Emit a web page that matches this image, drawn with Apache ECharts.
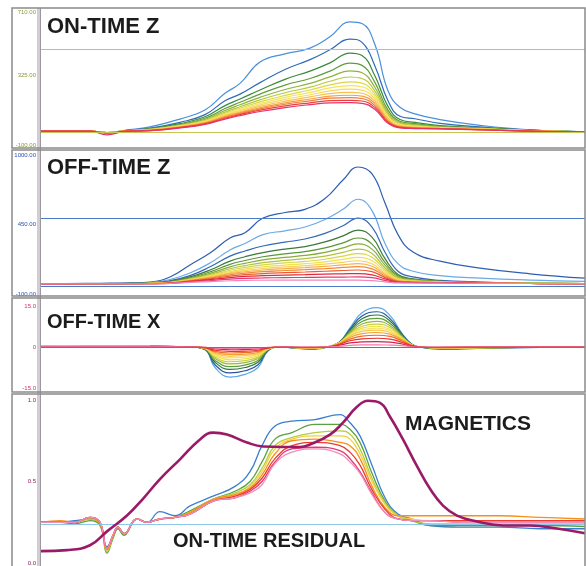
<!DOCTYPE html>
<html>
<head>
<meta charset="utf-8">
<script src="https://cdn.jsdelivr.net/npm/echarts@6/dist/echarts.min.js"></script>
<style>
  html, body { margin: 0; padding: 0; background: #fff; }
  #chart { width: 586px; height: 566px; }
</style>
</head>
<body>
<div id="chart"></div>
<script>
// 剖面位置（站点，0 = 左端）
const onZX = [0, 49, 66, 84, 109, 139, 164, 184, 199, 219, 244, 269, 289, 309, 321, 334, 347, 359, 374, 399, 439, 489, 544];
const offZX = [0, 59, 89, 109, 129, 149, 169, 189, 204, 222, 244, 264, 284, 302, 317, 331, 344, 357, 372, 399, 439, 489, 544];
const offXX = [0, 59, 109, 149, 164, 174, 189, 204, 217, 227, 239, 259, 274, 289, 299, 309, 321, 336, 349, 361, 371, 379, 399, 459, 544];
const resX = [0, 19, 34, 49, 59, 66, 72, 77, 83, 96, 106, 119, 134, 149, 172, 194, 209, 221, 234, 251, 274, 299, 309, 319, 331, 344, 357, 371, 389, 419, 459, 499, 544];
const magX = [0, 26, 49, 66, 86, 102, 119, 139, 159, 172, 186, 206, 222, 242, 259, 269, 289, 302, 316, 327, 339, 349, 362, 376, 389, 402, 416, 436, 462, 489, 516, 544];

// ON-TIME Z channels (early -> late)
const onZ1 = [-15, -15, -25, -10, 10, 58, 113, 215, 275, 405, 455, 490, 560, 650, 640, 510, 230, 130, 90, 55, 20, -8, -20];
const onZ2 = [-15, -15, -25, -12, 3, 38, 85, 170, 210, 280, 360, 420, 480, 545, 525, 380, 170, 75, 60, 32, 10, -10, -20];
const onZ3 = [-15, -15, -25, -12, 0, 30, 72, 140, 180, 235, 300, 350, 400, 460, 445, 320, 135, 55, 38, 18, 5, -10, -20];
const onZ4 = [-15, -15, -25, -13, -2, 25, 63, 122, 160, 210, 265, 305, 350, 399, 385, 280, 112, 45, 30, 14, 3, -11, -20];
const onZ5 = [-15, -15, -25, -13, -4, 22, 56, 110, 145, 190, 238, 275, 315, 351, 340, 250, 98, 38, 24, 10, 1, -12, -20];
const onZ6 = [-15, -15, -25, -14, -5, 20, 51, 100, 133, 175, 218, 252, 288, 314, 305, 228, 86, 32, 20, 8, 0, -12, -20];
const onZ7 = [-15, -15, -25, -14, -6, 18, 47, 93, 124, 163, 202, 235, 266, 285, 277, 210, 77, 28, 17, 6, -1, -13, -20];
const onZ8 = [-15, -15, -25, -14, -7, 16, 44, 87, 116, 153, 190, 220, 248, 262, 255, 195, 70, 24, 14, 5, -2, -13, -20];
const onZ9 = [-15, -15, -25, -15, -8, 14, 41, 82, 109, 144, 178, 206, 230, 240, 234, 180, 63, 20, 11, 3, -3, -14, -20];
const onZ10 = [-15, -15, -25, -15, -9, 12, 38, 77, 102, 135, 167, 193, 213, 220, 215, 165, 56, 16, 8, 2, -4, -14, -20];
const onZ11 = [-15, -15, -25, -15, -10, 10, 35, 72, 96, 127, 157, 180, 198, 203, 198, 152, 50, 13, 6, 1, -5, -15, -20];
const onZ12 = [-15, -15, -25, -16, -11, 8, 32, 68, 91, 120, 148, 169, 185, 188, 183, 140, 44, 10, 4, 0, -6, -15, -20];
const onZ13 = [-15, -15, -28, -16, -12, 6, 29, 63, 85, 112, 138, 157, 170, 172, 168, 128, 38, 7, 2, -1, -7, -16, -20];
const onZ14 = [-15, -15, -38, -17, -13, 4, 26, 58, 79, 104, 128, 146, 157, 158, 154, 116, 32, 4, 0, -2, -8, -16, -20];

// OFF-TIME Z channels
const offZ1 = [-20, -15, -12, -5, 35, 130, 224, 343, 385, 501, 545, 570, 655, 802, 905, 850, 620, 370, 232, 160, 105, 60, 25];
const offZ2 = [-20, -18, -15, -10, 15, 66, 145, 248, 300, 370, 400, 430, 490, 570, 650, 560, 300, 140, 80, 45, 25, 10, 0];
const offZ3 = [-20, -18, -16, -12, 5, 45, 115, 200, 240, 280, 310, 335, 380, 440, 500, 430, 230, 80, 35, 8, -5, -12, -18];
const offZ4 = [-20, -18, -16, -13, 0, 35, 90, 160, 195, 228, 255, 275, 312, 360, 406, 350, 180, 55, 20, 2, -8, -14, -18];
const offZ5 = [-20, -18, -17, -14, -3, 28, 75, 135, 165, 195, 218, 235, 265, 305, 343, 295, 150, 45, 15, 0, -9, -15, -18];
const offZ6 = [-20, -18, -17, -15, -5, 23, 63, 115, 143, 170, 190, 205, 230, 265, 296, 255, 128, 36, 12, -2, -10, -15, -18];
const offZ7 = [-20, -18, -17, -15, -7, 19, 54, 100, 125, 148, 166, 180, 200, 230, 255, 220, 108, 28, 8, -4, -11, -16, -18];
const offZ8 = [-20, -19, -18, -16, -9, 16, 47, 88, 110, 130, 146, 158, 175, 200, 220, 190, 92, 22, 5, -5, -12, -16, -18];
const offZ9 = [-20, -19, -18, -16, -10, 13, 41, 78, 97, 115, 129, 140, 154, 174, 190, 163, 78, 16, 2, -6, -12, -16, -18];
const offZ10 = [-20, -19, -18, -17, -11, 11, 36, 69, 86, 102, 114, 124, 136, 151, 163, 140, 65, 11, 0, -7, -13, -17, -18];
const offZ11 = [-20, -19, -18, -17, -12, 9, 31, 61, 76, 90, 101, 109, 119, 131, 140, 120, 54, 7, -2, -8, -13, -17, -18];
const offZ12 = [-20, -19, -18, -17, -13, 6, 26, 52, 65, 77, 86, 93, 101, 110, 116, 99, 43, 3, -4, -9, -14, -17, -18];
const offZ13 = [-20, -19, -19, -18, -14, 3, 20, 42, 53, 62, 69, 74, 80, 86, 90, 77, 32, -1, -7, -10, -14, -17, -18];
const offZ14 = [-20, -19, -19, -18, -15, 0, 13, 30, 39, 45, 50, 53, 57, 60, 62, 52, 20, -5, -9, -11, -15, -17, -18];
const offZ15 = [-20, -19, -19, -18, -16, -4, 6, 18, 24, 27, 30, 31, 33, 34, 35, 29, 8, -9, -11, -12, -15, -17, -18];
const offZ16 = [-20, -19, -19, -19, -17, -8, -2, 5, 8, 9, 10, 10, 10, 10, 10, 6, -4, -12, -13, -14, -16, -17, -18];

// OFF-TIME X channels
const offX1 = [0.2, 0.5, 0.3, 0.1, -1.0, -7.5, -11.0, -10.0, -7.5, -1.5, 0.0, -0.6, -0.8, 0.2, 2.0, 7.0, 12.5, 14.4, 11.5, 5.0, 1.0, 0.0, -0.8, -0.3, 0.0];
const offX2 = [0.2, 0.4, 0.3, 0.1, -0.9, -6.5, -9.5, -8.7, -6.5, -1.3, 0.0, -0.5, -0.7, 0.2, 1.9, 6.5, 11.3, 12.9, 10.4, 4.7, 0.9, 0.0, -0.7, -0.3, 0.0];
const offX3 = [0.2, 0.4, 0.3, 0.1, -0.8, -5.6, -8.2, -7.5, -5.6, -1.1, 0.0, -0.5, -0.6, 0.2, 1.8, 6.1, 10.3, 11.7, 9.5, 4.4, 0.9, 0.0, -0.6, -0.2, 0.0];
const offX4 = [0.2, 0.4, 0.3, 0.1, -0.7, -4.9, -7.2, -6.6, -4.9, -1.0, 0.0, -0.4, -0.5, 0.2, 1.8, 5.6, 9.3, 10.5, 8.6, 4.1, 0.8, 0.0, -0.5, -0.2, 0.0];
const offX5 = [0.2, 0.3, 0.2, 0.1, -0.6, -4.2, -6.2, -5.7, -4.2, -0.9, 0.0, -0.4, -0.5, 0.2, 1.7, 5.2, 8.4, 9.4, 7.8, 3.8, 0.8, 0.0, -0.5, -0.2, 0.0];
const offX6 = [0.2, 0.3, 0.2, 0.1, -0.5, -3.7, -5.4, -5.0, -3.7, -0.8, 0.0, -0.3, -0.4, 0.2, 1.7, 4.8, 7.6, 8.4, 7.1, 3.5, 0.7, 0.0, -0.4, -0.2, 0.0];
const offX7 = [0.2, 0.3, 0.2, 0.1, -0.5, -3.2, -4.7, -4.3, -3.2, -0.7, 0.0, -0.3, -0.4, 0.2, 1.6, 4.5, 6.9, 7.6, 6.5, 3.3, 0.7, 0.0, -0.4, -0.1, 0.0];
const offX8 = [0.2, 0.3, 0.2, 0.1, -0.4, -2.8, -4.0, -3.7, -2.8, -0.6, 0.0, -0.3, -0.3, 0.2, 1.6, 4.2, 6.3, 6.9, 6.0, 3.1, 0.7, 0.0, -0.3, -0.1, 0.0];
const offX9 = [0.1, 0.2, 0.2, 0.1, -0.4, -2.4, -3.4, -3.1, -2.4, -0.5, 0.0, -0.2, -0.3, 0.2, 1.5, 3.9, 5.7, 6.2, 5.4, 2.9, 0.6, 0.0, -0.3, -0.1, 0.0];
const offX10 = [0.1, 0.2, 0.2, 0.1, -0.3, -2.0, -2.8, -2.6, -2.0, -0.4, 0.0, -0.2, -0.2, 0.2, 1.4, 3.5, 4.9, 5.3, 4.7, 2.6, 0.6, 0.0, -0.2, -0.1, 0.0];
const offX11 = [0.1, 0.2, 0.1, 0.1, -0.3, -1.6, -2.2, -2.0, -1.6, -0.3, 0.0, -0.2, -0.2, 0.2, 1.2, 2.9, 4.0, 4.3, 3.9, 2.2, 0.5, 0.0, -0.2, -0.1, 0.0];
const offX12 = [0.1, 0.1, 0.1, 0.0, -0.2, -1.2, -1.6, -1.5, -1.2, -0.3, 0.0, -0.1, -0.1, 0.1, 1.0, 2.3, 3.0, 3.2, 2.9, 1.7, 0.4, 0.0, -0.1, 0.0, 0.0];
const offX13 = [0.1, 0.1, 0.1, 0.0, -0.1, -0.7, -1.0, -0.9, -0.7, -0.2, 0.0, -0.1, -0.1, 0.1, 0.7, 1.5, 1.9, 2.0, 1.8, 1.1, 0.3, 0.0, -0.1, 0.0, 0.0];
const offX14 = [0.1, 0.1, 0.1, 0.0, -0.1, -0.4, -0.5, -0.5, -0.4, -0.1, 0.0, 0.0, 0.0, 0.1, 0.3, 0.6, 0.8, 0.8, 0.7, 0.5, 0.1, 0.0, 0.0, 0.0, 0.0];

// ON-TIME RESIDUAL channels + magnetics
const res1 = [.25, .25, .26, .27, .24, .10, .16, .22, .18, .27, .25, .315, .29, .35, .41, .47, .56, .72, .84, .87, .88, .91, .86, .78, .60, .40, .30, .27, .23, .22, .22, .21, .21];
const res2 = [.25, .25, .24, .26, .23, .06, .15, .21, .17, .27, .25, .27, .28, .32, .39, .44, .50, .62, .76, .80, .85, .85, .82, .74, .55, .38, .29, .26, .23, .23, .23, .23, .224];
const res3 = [.25, .25, .25, .27, .24, .07, .16, .22, .18, .27, .25, .27, .28, .31, .39, .43, .48, .58, .72, .77, .80, .81, .79, .70, .52, .37, .29, .26, .24, .24, .24, .24, .24];
const res4 = [.25, .25, .25, .28, .25, .08, .17, .22, .18, .27, .25, .27, .28, .31, .39, .42, .47, .56, .70, .76, .78, .78, .76, .67, .50, .36, .29, .27, .26, .26, .26, .26, .26];
const res5 = [.25, .26, .25, .28, .24, .08, .17, .22, .18, .27, .25, .27, .28, .31, .39, .42, .46, .54, .67, .75, .76, .74, .72, .64, .47, .34, .29, .29, .29, .29, .29, .28, .27];
const res6 = [.25, .25, .25, .28, .25, .09, .17, .22, .18, .27, .25, .27, .28, .30, .38, .41, .45, .52, .64, .72, .74, .72, .68, .60, .45, .33, .27, .26, .26, .26, .26, .26, .26];
const res7 = [.25, .25, .25, .28, .25, .09, .17, .22, .18, .27, .25, .27, .28, .30, .38, .40, .44, .50, .62, .70, .71, .69, .64, .56, .43, .31, .27, .26, .26, .25, .25, .25, .25];
const res8 = [.25, .25, .25, .28, .25, .09, .17, .22, .18, .27, .25, .27, .28, .30, .38, .40, .43, .48, .61, .68, .70, .67, .62, .55, .42, .31, .27, .26, .26, .25, .25, .25, .25];
const magnetics = [0.073, 0.079, 0.109, 0.194, 0.291, 0.394, 0.515, 0.636, 0.758, 0.80, 0.788, 0.739, 0.715, 0.712, 0.712, 0.727, 0.788, 0.861, 0.958, 0.995, 0.982, 0.897, 0.758, 0.594, 0.455, 0.352, 0.291, 0.255, 0.23, 0.23, 0.212, 0.182];

// 轴标签和参考线
const onZTicks = [-100, 325, 710];
const offZTicks = [-100, 450, 1000];
const offXTicks = [-15, 0, 15];
const resTicks = [0, 0.5, 1];
const onZRefLines = [485, -20];
const offZRefLines = [500, -35];
const offXRefLines = [0];
const resRefLines = [0.24];

const onZColors = ["#4a90d9", "#2f6cb8", "#3a8a3a", "#5e9e3a", "#8fb43c", "#b8c83e", "#dcd845", "#f2e45c", "#f8d860", "#f7c050", "#f5a040", "#f27a3a", "#ec4038", "#e8306a"];
const offZColors = ["#2c5fb2", "#6aaae6", "#3468b8", "#3c7a38", "#5c9638", "#86ac3c", "#b0c240", "#d8d648", "#f0e050", "#f8d258", "#f6b048", "#f28a38", "#ee5a30", "#e42a3a", "#e03a78", "#ee88b8"];
const offXColors = ["#5ba8e6", "#2a56a0", "#2e7a3c", "#5c9e3e", "#9cb83c", "#cdd040", "#f0e040", "#f6e26a", "#f8c848", "#f5a030", "#f06a28", "#e8302c", "#d8204c", "#f07aa8"];
const resColors = ["#3a7ed0", "#5aa040", "#b8cc3c", "#f0d040", "#f5901c", "#ec3a2c", "#e23a78", "#f090b8"];

const onZ = [onZ1, onZ2, onZ3, onZ4, onZ5, onZ6, onZ7, onZ8, onZ9, onZ10, onZ11, onZ12, onZ13, onZ14];
const offZ = [offZ1, offZ2, offZ3, offZ4, offZ5, offZ6, offZ7, offZ8, offZ9, offZ10, offZ11, offZ12, offZ13, offZ14, offZ15, offZ16];
const offX = [offX1, offX2, offX3, offX4, offX5, offX6, offX7, offX8, offX9, offX10, offX11, offX12, offX13, offX14];
const res = [res1, res2, res3, res4, res5, res6, res7, res8];

var chart = echarts.init(document.getElementById("chart"));

function pairs(xs, ys) {
  return xs.map(function (x, i) { return [x, ys[i]]; });
}

function makeLine(panel, name, xs, ys, color, width) {
  return {
    type: "line",
    name: name,
    xAxisIndex: panel,
    yAxisIndex: panel,
    data: pairs(xs, ys),
    showSymbol: false,
    smooth: 0.45,
    silent: true,
    lineStyle: { color: color, width: width },
    z: 3
  };
}

function refLine(values, color) {
  return {
    silent: true,
    symbol: "none",
    label: { show: false },
    lineStyle: { color: color, width: 1, type: "solid" },
    data: values.map(function (v) { return { yAxis: v }; })
  };
}

var series = [];
onZ.forEach(function (ch, i) {
  series.push(makeLine(0, "onZ" + (i + 1), onZX, ch, onZColors[i], 1.2));
});
series[0].markLine = refLine(onZRefLines, "#c8c454");

offZ.forEach(function (ch, i) {
  series.push(makeLine(1, "offZ" + (i + 1), offZX, ch, offZColors[i], 1.2));
});
series[onZ.length].markLine = refLine(offZRefLines, "#4a7cc8");

offX.forEach(function (ch, i) {
  series.push(makeLine(2, "offX" + (i + 1), offXX, ch, offXColors[i], 1.2));
});
series[onZ.length + offZ.length].markLine = refLine(offXRefLines, "#e04070");

res.forEach(function (ch, i) {
  series.push(makeLine(3, "res" + (i + 1), resX, ch, resColors[i], 1.3));
});
series[onZ.length + offZ.length + offX.length].markLine = refLine(resRefLines, "#8cc8e8");
var magSeries = makeLine(3, "Magnetics", magX, magnetics, "#9a1a68", 2.6);
magSeries.z = 5;
series.push(magSeries);

function yAxisFor(grid, min, max, ticks, color, fmt) {
  return {
    type: "value",
    gridIndex: grid,
    min: min,
    max: max,
    splitLine: { show: false },
    axisLine: { show: false },
    axisTick: { show: false },
    axisLabel: {
      customValues: ticks,
      fontSize: 6,
      color: color,
      margin: 5,
      fontFamily: "'Liberation Sans', Arial, sans-serif",
      formatter: fmt
    }
  };
}

var xAxes = [0, 1, 2, 3].map(function (g) {
  return { type: "value", gridIndex: g, min: 0, max: 544, show: false };
});

var panelFont = "'Liberation Sans', Arial, sans-serif";
function title(text, x, y, size) {
  return {
    type: "text", x: x, y: y, z: 20,
    style: { text: text, fill: "#1c1c1c", font: "bold " + size + "px " + panelFont, textVerticalAlign: "middle" }
  };
}
function box(y, h) {
  return {
    type: "rect", shape: { x: 12, y: y, width: 573, height: h }, z: 10, silent: true,
    style: { fill: null, stroke: "#8a8a8a", lineWidth: 1.5 }
  };
}

chart.setOption({
  animation: false,
  backgroundColor: "#ffffff",
  grid: [
    { left: 41, right: 1, top: 12, height: 133 },
    { left: 41, right: 1, top: 155, height: 139 },
    { left: 41, right: 1, top: 306, height: 82 },
    { left: 41, right: 1, top: 400, height: 165 }
  ],
  xAxis: xAxes,
  yAxis: [
    yAxisFor(0, -100, 710, onZTicks, "#8a9a3a", function (v) { return v.toFixed(2); }),
    yAxisFor(1, -100, 1000, offZTicks, "#2a4fb0", function (v) { return v.toFixed(2); }),
    yAxisFor(2, -15, 15, offXTicks, "#d03060", function (v) { return v === 0 ? "0" : v.toFixed(1); }),
    yAxisFor(3, 0, 1, resTicks, "#902060", function (v) { return v.toFixed(1); })
  ],
  series: series,
  graphic: [
    box(8, 140),
    box(150, 146),
    box(298, 94),
    box(394, 174),
    { type: "rect", shape: { x: 37, y: 8, width: 3, height: 560 }, z: 9, silent: true, style: { fill: "#d3cbd5" } },
    { type: "line", shape: { x1: 40.5, y1: 8, x2: 40.5, y2: 568 }, z: 9, silent: true, style: { stroke: "#9a9a9a", lineWidth: 1 } },
    title("ON-TIME Z", 47, 27, 22),
    title("OFF-TIME Z", 47, 168, 22),
    title("OFF-TIME X", 47, 322, 20),
    title("MAGNETICS", 405, 424, 21),
    title("ON-TIME RESIDUAL", 173, 541, 20)
  ]
});
</script>
</body>
</html>
